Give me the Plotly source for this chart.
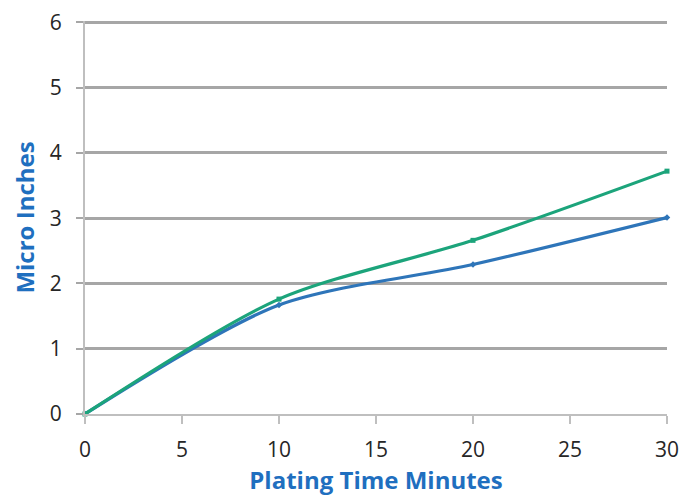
import plotly.graph_objects as go

minutes = [0, 10, 20, 30]
series_a = [0, 1.67, 2.29, 3.01]
series_b = [0, 1.76, 2.66, 3.72]

fig = go.Figure()
fig.add_trace(go.Scatter(x=minutes, y=series_a, mode="lines+markers",
                         line=dict(color="#2E75B9", width=3.2, shape="spline", smoothing=0.8),
                         marker=dict(size=5, color="#2E75B9", symbol="diamond"),
                         showlegend=False, cliponaxis=False))
fig.add_trace(go.Scatter(x=minutes, y=series_b, mode="lines+markers",
                         line=dict(color="#1CA47B", width=3.2, shape="spline", smoothing=0.8),
                         marker=dict(size=5, color="#1CA47B", symbol="square"),
                         showlegend=False, cliponaxis=False))

axis_font = dict(family="Open Sans, Liberation Sans, sans-serif", size=21, color="#262626")
title_font = dict(family="Open Sans, Liberation Sans, sans-serif", size=24, color="#1F6FBF")

fig.update_layout(
    width=698, height=499,
    margin=dict(l=77, r=39, t=13, b=93, autoexpand=False),
    paper_bgcolor="white", plot_bgcolor="white",
    xaxis=dict(range=[0, 30], tickvals=[0, 5, 10, 15, 20, 25, 30],
               showgrid=False, zeroline=False,
               showline=True, linecolor="#BFBFBF", linewidth=2,
               ticks="outside", ticklen=8, tickcolor="#BFBFBF", tickwidth=1.5,
               tickfont=axis_font, ticklabelstandoff=8, ticklabeloverflow="allow",
               title=dict(text="<b>Plating Time Minutes</b>", font=title_font, standoff=5)),
    yaxis=dict(range=[0, 6.02], tickvals=[0, 1, 2, 3, 4, 5, 6],
               showgrid=True, gridcolor="#A6A6A6", gridwidth=2.5, zeroline=False,
               showline=True, linecolor="#BFBFBF", linewidth=2,
               ticks="outside", ticklen=7, tickcolor="#A6A6A6", tickwidth=2,
               tickfont=axis_font, ticklabelstandoff=10, ticklabeloverflow="allow",
               title=dict(text="<b>Micro Inches</b>", font=title_font, standoff=11)),
)

fig.write_html("out.html")
